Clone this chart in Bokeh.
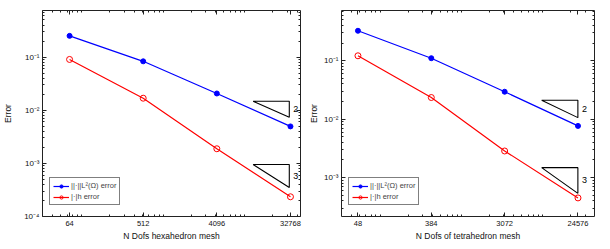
from bokeh.plotting import figure
from bokeh.layouts import row
from bokeh.models import LogAxis, FixedTicker, Legend, LegendItem, Label, NumeralTickFormatter
from bokeh.embed import file_html
from bokeh.resources import INLINE

# ---------------- data ----------------
hex_dofs = [64, 512, 4096, 32768]
hex_l2 = [0.25, 0.083, 0.0206, 0.00495]
hex_h = [0.090, 0.0168, 0.00188, 0.000235]

tet_dofs = [48, 384, 3072, 24576]
tet_l2 = [0.324, 0.110, 0.0294, 0.00765]
tet_h = [0.121, 0.0234, 0.00285, 0.000449]

# slope triangles (data coordinates): x_left, x_right, y_top, y_bottom
hex_tri2 = [11400, 31700, 0.0147, 0.0074]
hex_tri3 = [11400, 31700, 0.00095, 0.00035]
tet_tri2 = [8770, 24500, 0.0210, 0.0106]
tet_tri3 = [8770, 24500, 0.00148, 0.000537]
slope_labels = ["2", "3"]

hex_xrange = (29.8, 43500)
hex_yrange = (1e-4, 0.75)
tet_xrange = (30.1, 39250)
tet_yrange = (2.16e-4, 0.72)

y_major = [1e-4, 1e-3, 1e-2, 1e-1]
y_labels = {1e-4: "10⁻⁴", 1e-3: "10⁻³", 1e-2: "10⁻²", 1e-1: "10⁻¹"}
minor = [m * 10.0 ** e for e in range(-5, 6) for m in range(2, 10)]

legend_l2 = "||·||L²(Ω) error"
legend_h = "|·|h error"

FONT = "Liberation Sans"
BLUE = "#0000ff"
RED = "#ff0000"


def style_axis(ax, show_labels=True):
    ax.major_tick_in = 4
    ax.major_tick_out = 0
    ax.minor_tick_in = 2
    ax.minor_tick_out = 0
    ax.axis_line_color = "#222222"
    ax.major_tick_line_color = "#222222"
    ax.minor_tick_line_color = "#222222"
    ax.major_label_text_font = FONT
    ax.major_label_text_color = "#111111"
    ax.axis_label_text_font = FONT
    ax.axis_label_text_font_style = "normal"
    ax.axis_label_text_color = "#111111"
    if not show_labels:
        ax.major_label_text_font_size = "1px"
        ax.major_label_text_alpha = 0
        ax.major_label_standoff = 0


def make_panel(dofs, l2, hh, tri2, tri3, xr, yr, xlabel, left_border, right_border,
               ylabel_standoff):
    p = figure(width=305, height=249, x_axis_type="log", y_axis_type="log",
               x_range=xr, y_range=yr, output_backend="svg", toolbar_location=None,
               min_border_left=left_border, min_border_right=right_border,
               min_border_top=10, min_border_bottom=33, background_fill_color="white",
               border_fill_color="white", outline_line_color=None)
    p.grid.visible = False

    p.xaxis.ticker = FixedTicker(ticks=dofs, minor_ticks=minor)
    p.xaxis.formatter = NumeralTickFormatter(format="0")
    p.yaxis.ticker = FixedTicker(ticks=y_major, minor_ticks=minor)
    p.yaxis.major_label_overrides = y_labels
    p.xaxis.axis_label = xlabel
    p.yaxis.axis_label = "Error"
    for ax in p.xaxis + p.yaxis:
        style_axis(ax)
        ax.major_label_text_font_size = "7.5px"
        ax.axis_label_text_font_size = "8.5px"
    p.yaxis.major_label_text_font_size = "8px"
    p.xaxis.major_label_standoff = 4
    p.xaxis.axis_label_standoff = 2
    p.yaxis.major_label_standoff = 3
    p.yaxis.axis_label_standoff = ylabel_standoff

    top = LogAxis(ticker=FixedTicker(ticks=dofs, minor_ticks=minor))
    style_axis(top, False)
    p.add_layout(top, "above")
    right = LogAxis(ticker=FixedTicker(ticks=y_major, minor_ticks=minor))
    style_axis(right, False)
    p.add_layout(right, "right")

    r1 = p.line(dofs, l2, color=BLUE, line_width=1.2)
    r1m = p.scatter(dofs, l2, marker="circle", size=5, color=BLUE)
    r2 = p.line(dofs, hh, color=RED, line_width=1.2)
    r2m = p.scatter(dofs, hh, marker="circle", size=6, line_color=RED,
                    fill_color=None, line_width=1)

    for tri, lab in zip([tri2, tri3], slope_labels):
        x0, x1, y0, y1 = tri
        p.line([x0, x1, x1, x0], [y0, y0, y1, y0], color="black", line_width=1.1)
        p.add_layout(Label(x=x1, y=(y0 * y1) ** 0.5, text=lab, x_offset=4,
                           text_baseline="middle", text_align="left",
                           text_font=FONT, text_font_size="9px", text_color="black"))

    legend = Legend(items=[LegendItem(label=legend_l2, renderers=[r1, r1m]),
                           LegendItem(label=legend_h, renderers=[r2, r2m])],
                    location=(7, 11), label_text_font=FONT,
                    label_text_font_size="7.5px", label_height=8, glyph_height=8,
                    glyph_width=16, spacing=2, padding=3, margin=0,
                    label_standoff=2, border_line_color="black",
                    border_line_width=1, background_fill_alpha=1)
    p.add_layout(legend, "center")
    return p


p1 = make_panel(hex_dofs, hex_l2, hex_h, hex_tri2, hex_tri3, hex_xrange, hex_yrange,
                "N Dofs hexahedron mesh", 41, 5, 8)
p2 = make_panel(tet_dofs, tet_l2, tet_h, tet_tri2, tet_tri3, tet_xrange, tet_yrange,
                "N Dofs of tetrahedron mesh", 30, 16, 2)

layout = row(p1, p2)
open("out.html", "w").write(file_html(layout, INLINE))
